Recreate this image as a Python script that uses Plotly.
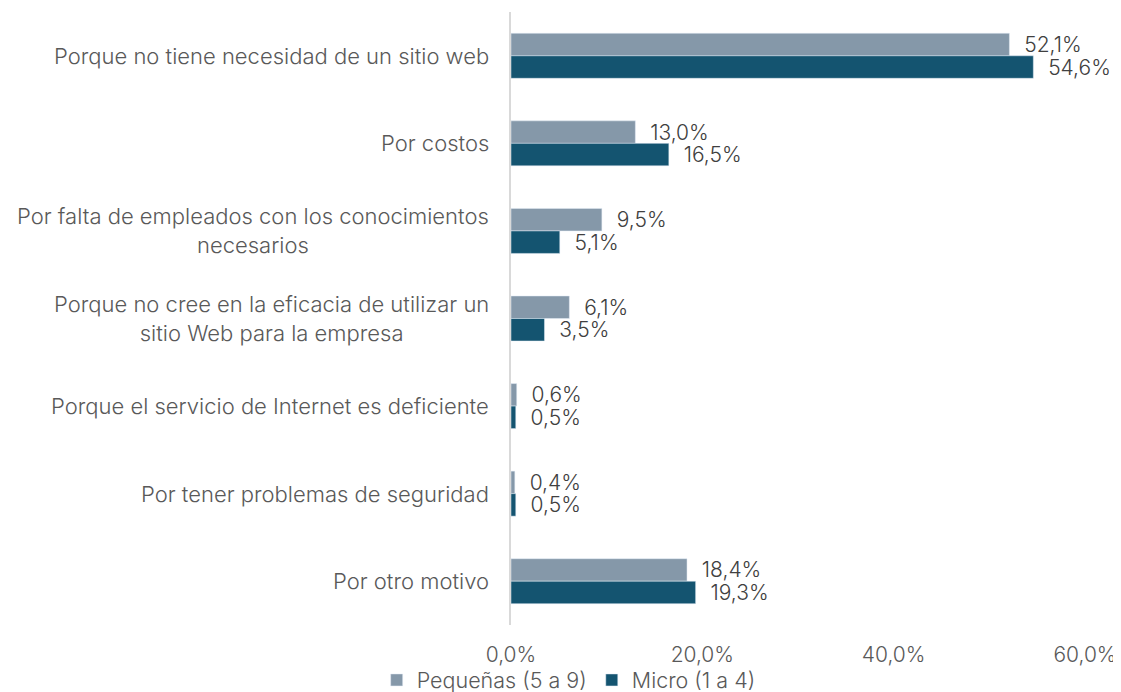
import plotly.graph_objects as go

categories = [
    "Porque no tiene necesidad de un sitio web",
    "Por costos",
    "Por falta de empleados con los conocimientos<br>necesarios",
    "Porque no cree en la eficacia de utilizar un<br>sitio Web para la empresa",
    "Porque el servicio de Internet es deficiente",
    "Por tener problemas de seguridad",
    "Por otro motivo",
]
pequenas = [52.1, 13.0, 9.5, 6.1, 0.6, 0.4, 18.4]
micro = [54.6, 16.5, 5.1, 3.5, 0.5, 0.5, 19.3]
x_ticks = [0, 20, 40, 60]

FONT = "Inter"
TXT = "#404040"
CAT = "#595959"

def fmt(v):
    return f"{v:.1f}%".replace(".", ",")

fig = go.Figure()
fig.add_trace(go.Bar(
    name="Pequeñas (5 a 9)", y=categories, x=pequenas, orientation="h",
    marker_color="#8598a9", text=["  " + fmt(v) for v in pequenas],
    textposition="outside", constraintext="none", cliponaxis=False,
    textfont=dict(size=21, color=TXT, family=FONT, weight=300),
))
fig.add_trace(go.Bar(
    name="Micro (1 a 4)", y=categories, x=micro, orientation="h",
    marker_color="#145470", text=["  " + fmt(v) for v in micro],
    textposition="outside", constraintext="none", cliponaxis=False,
    textfont=dict(size=21, color=TXT, family=FONT, weight=300),
))

for c in categories:
    fig.add_annotation(
        xref="paper", yref="y", x=-0.035, y=c, text=c, showarrow=False,
        xanchor="right", align="center",
        font=dict(size=22, color=CAT, family=FONT, weight=300),
    )

fig.update_layout(
    width=1113, height=684,
    margin=dict(l=503, r=36, t=4, b=67, autoexpand=False),
    paper_bgcolor="white", plot_bgcolor="white",
    barmode="group", bargap=0.486, bargroupgap=0,
    font=dict(family=FONT, size=20, color=TXT),
    showlegend=True,
    legend=dict(orientation="h", x=-0.234, xanchor="left", y=-0.0897, yanchor="middle",
                bgcolor="rgba(0,0,0,0)",
                font=dict(size=21.5, color=CAT, family=FONT, weight=300),
                traceorder="normal", itemwidth=30),
    xaxis=dict(range=[0, 60], tickvals=x_ticks,
               ticktext=[fmt(v) for v in x_ticks], automargin=False,
               showgrid=False, zeroline=False, showline=False, ticklen=11, ticks="outside",
               tickcolor="rgba(0,0,0,0)",
               tickfont=dict(size=21, color=CAT, family=FONT, weight=300)),
    yaxis=dict(autorange="reversed", showticklabels=False, showline=True,
               linecolor="#d9d9d9", linewidth=2, ticks="", showgrid=False,
               automargin=False),
)

fig.write_html("out.html")
